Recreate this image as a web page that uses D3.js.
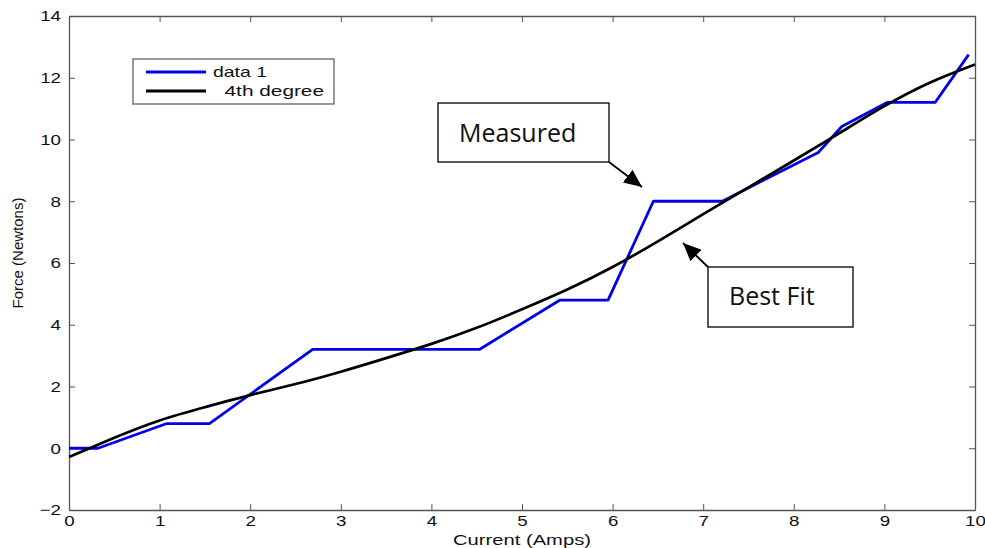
<!DOCTYPE html>
<html>
<head>
<meta charset="utf-8">
<script src="https://cdn.jsdelivr.net/npm/d3@7"></script>
<style>
  html, body { margin: 0; padding: 0; background: #fff; }
  svg { display: block; }
  .tick text { font-family: Arial, "Liberation Sans", sans-serif; font-size: 15px; fill: #111; }
</style>
</head>
<body>
<script>
// Measured force vs. current (step-like readings)
const measuredCurrent = [0, 0.32, 1.08, 1.55, 2.69, 4.53, 5.42, 5.95, 6.45, 7.21, 8.27, 8.53, 9.03, 9.56, 9.93];
const measuredForce   = [0, 0,    0.8,  0.8,  3.2,  3.2,  4.8,  4.8,  8.0,  8.0,  9.58, 10.42, 11.2, 11.2, 12.75];

// 4th-degree fit, sampled along the current axis
const fitCurrent = [0, 0.5, 1, 1.5, 2, 2.5, 3, 3.5, 4, 4.5, 5, 5.5, 6, 6.5, 7, 7.5, 8, 8.5, 9, 9.5, 10];
const fitForce   = [-0.28, 0.34, 0.9, 1.33, 1.72, 2.08, 2.48, 2.92, 3.38, 3.9, 4.5, 5.14, 5.87, 6.7, 7.58, 8.45, 9.32, 10.2, 11.08, 11.84, 12.43];

const xTicks = [0, 1, 2, 3, 4, 5, 6, 7, 8, 9, 10];
const yTicks = [-2, 0, 2, 4, 6, 8, 10, 12, 14];

const legendLabels = ["data 1", "  4th degree"];
const seriesColors = ["#0000e6", "#000000"];

const W = 985, H = 548;
const margin = { left: 69, right: 10, top: 16, bottom: 38 };
const widen = 1.25; // horizontal stretch applied to the axis lettering

const svg = d3.select("body").append("svg").attr("width", W).attr("height", H);

const x = d3.scaleLinear().domain([0, 10]).range([margin.left, W - margin.right]);
const y = d3.scaleLinear().domain([-2, 14]).range([H - margin.bottom, margin.top]);

const axisColor = "#555";
const tickLen = 6;

// Axes with inward ticks on all four sides
const gB = svg.append("g").attr("transform", `translate(0,${y(-2)})`)
  .call(d3.axisBottom(x).tickValues(xTicks).tickFormat(d3.format("d")).tickSizeInner(-tickLen).tickSizeOuter(0).tickPadding(5));
const gL = svg.append("g").attr("transform", `translate(${x(0)},0)`)
  .call(d3.axisLeft(y).tickValues(yTicks).tickFormat(d3.format("d")).tickSizeInner(-tickLen).tickSizeOuter(0).tickPadding(10));
const gT = svg.append("g").attr("transform", `translate(0,${y(14)})`)
  .call(d3.axisTop(x).tickValues(xTicks).tickFormat("").tickSizeInner(-tickLen).tickSizeOuter(0));
const gR = svg.append("g").attr("transform", `translate(${x(10)},0)`)
  .call(d3.axisRight(y).tickValues(yTicks).tickFormat("").tickSizeInner(-tickLen).tickSizeOuter(0));

[gB, gL, gT, gR].forEach(g => {
  g.select(".domain").attr("stroke", axisColor).attr("stroke-width", 1.3);
  g.selectAll(".tick line").attr("stroke", axisColor).attr("stroke-width", 1);
});
gB.selectAll(".tick text").attr("transform", `scale(${widen},1)`);
gL.selectAll(".tick text").attr("x", -8 / widen).attr("transform", `scale(${widen},1)`);

// Axis titles
svg.append("text")
  .attr("x", (x(0) + x(10)) / 2 - 69).attr("y", 545)
  .attr("textLength", 138).attr("lengthAdjust", "spacingAndGlyphs")
  .attr("font-family", "Arial, 'Liberation Sans', sans-serif")
  .attr("font-size", 15).attr("fill", "#111")
  .text("Current (Amps)");

svg.append("text")
  .attr("transform", `translate(23,${(y(-2) + y(14)) / 2 - 10}) rotate(-90)`)
  .attr("text-anchor", "middle")
  .attr("font-family", "Arial, 'Liberation Sans', sans-serif")
  .attr("font-size", 15).attr("fill", "#111")
  .text("Force (Newtons)");

// Series
const line = d3.line().x(d => x(d[0])).y(d => y(d[1]));
const measured = measuredCurrent.map((c, i) => [c, measuredForce[i]]);
const fit = fitCurrent.map((c, i) => [c, fitForce[i]]);

svg.append("path").datum(measured)
  .attr("fill", "none").attr("stroke", seriesColors[0]).attr("stroke-width", 2.8)
  .attr("stroke-linejoin", "round")
  .attr("d", line);

svg.append("path").datum(fit)
  .attr("fill", "none").attr("stroke", seriesColors[1]).attr("stroke-width", 2.7)
  .attr("d", line.curve(d3.curveNatural));

// Legend
const lg = svg.append("g");
lg.append("rect").attr("x", 133).attr("y", 59).attr("width", 201).attr("height", 45)
  .attr("fill", "#fff").attr("stroke", "#555").attr("stroke-width", 1.2);
const legendWidths = [54, 111];
legendLabels.forEach((lab, i) => {
  const yy = 72 + i * 19;
  lg.append("line").attr("x1", 146).attr("x2", 206).attr("y1", yy).attr("y2", yy)
    .attr("stroke", seriesColors[i]).attr("stroke-width", 2.8);
  lg.append("text").attr("x", 213).attr("y", yy + 5)
    .attr("font-family", "Arial, 'Liberation Sans', sans-serif")
    .attr("font-size", 15).attr("fill", "#111")
    .attr("textLength", legendWidths[i]).attr("lengthAdjust", "spacingAndGlyphs")
    .attr("xml:space", "preserve").style("white-space", "pre")
    .text(lab);
});

// Callouts
const defs = svg.append("defs");
defs.append("marker").attr("id", "arrowhead")
  .attr("viewBox", "0 0 18 16").attr("refX", 18).attr("refY", 8)
  .attr("markerWidth", 18).attr("markerHeight", 16).attr("markerUnits", "userSpaceOnUse")
  .attr("orient", "auto")
  .append("path").attr("d", "M0,0 L18,8 L0,16 Z").attr("fill", "#000");

function callout(bx, by, bw, bh, label, tx, ty, fromX, fromY, toX, toY) {
  svg.append("line").attr("x1", fromX).attr("y1", fromY).attr("x2", toX).attr("y2", toY)
    .attr("stroke", "#000").attr("stroke-width", 1.8).attr("marker-end", "url(#arrowhead)");
  svg.append("rect").attr("x", bx).attr("y", by).attr("width", bw).attr("height", bh)
    .attr("fill", "#fff").attr("stroke", "#000").attr("stroke-width", 1.3);
  svg.append("text").attr("x", tx).attr("y", ty)
    .attr("font-family", "'Open Sans', 'Noto Sans', sans-serif")
    .attr("font-size", 25).attr("fill", "#111")
    .text(label);
}

callout(438, 103, 171, 59, "Measured", 459, 142, 609, 162, 642, 187);
callout(708, 267, 145, 60, "Best Fit", 729, 305, 708, 267, 683, 243);
</script>
</body>
</html>
